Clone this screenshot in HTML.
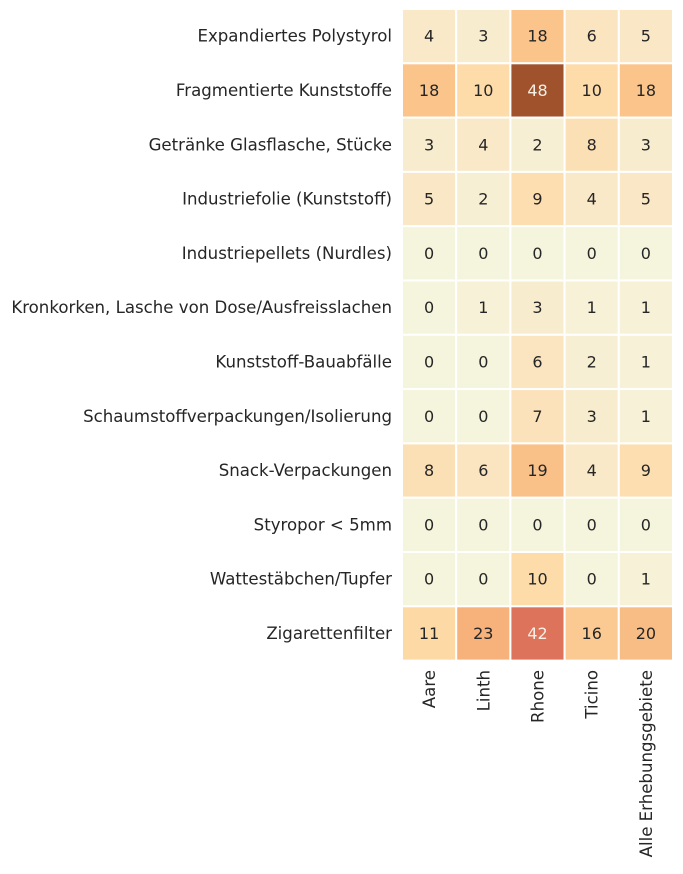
<!DOCTYPE html>
<html><head><meta charset="utf-8"><style>
body{margin:0;background:#fff;font-family:"Liberation Sans","DejaVu Sans",sans-serif;}
svg text{font-family:"DejaVu Sans","Liberation Sans",sans-serif;}
</style></head><body>
<svg id="chart" width="683" height="869" xmlns="http://www.w3.org/2000/svg"></svg>
<script>
const categories=["Expandiertes Polystyrol","Fragmentierte Kunststoffe","Getränke Glasflasche, Stücke","Industriefolie (Kunststoff)","Industriepellets (Nurdles)","Kronkorken, Lasche von Dose/Ausfreisslachen","Kunststoff-Bauabfälle","Schaumstoffverpackungen/Isolierung","Snack-Verpackungen","Styropor < 5mm","Wattestäbchen/Tupfer","Zigarettenfilter"];
const regions=["Aare","Linth","Rhone","Ticino","Alle Erhebungsgebiete"];
const aare=[4,18,3,5,0,0,0,0,8,0,0,11];
const linth=[3,10,4,2,0,1,0,0,6,0,0,23];
const rhone=[18,48,2,9,0,3,6,7,19,0,10,42];
const ticino=[6,10,8,4,0,1,2,3,4,0,0,16];
const alle=[5,18,3,5,0,1,1,1,9,0,1,20];
const series=[aare,linth,rhone,ticino,alle];
const stopV=[0,3,6,10,18,23,42,48];
const stopC=[[245,244,220],[248,236,206],[251,228,192],[253,220,170],[250,196,138],[246,178,122],[222,115,92],[160,82,45]];
function color(v){for(let i=1;i<stopV.length;i++){if(v<=stopV[i]){const t=(v-stopV[i-1])/(stopV[i]-stopV[i-1]);const c=stopC[i-1].map((a,k)=>Math.round(a+(stopC[i][k]-a)*t));return `rgb(${c})`;}}return `rgb(${stopC[stopC.length-1]})`;}
const x0=402,cw=54.2,y0=9,ch=54.3;
const xs=j=>x0+j*cw, ys=i=>y0+i*ch;
const svg=document.getElementById('chart');const NS="http://www.w3.org/2000/svg";
function mk(t,a){const e=document.createElementNS(NS,t);for(const k in a)e.setAttribute(k,a[k]);svg.appendChild(e);return e;}
series.forEach((s,j)=>s.forEach((v,i)=>{
 const r=mk('rect',{x:xs(j),y:ys(i),width:cw,height:ch,fill:color(v),stroke:'#fff','stroke-width':2});
 
 
 const t=mk('text',{x:xs(j)+cw/2,y:ys(i)+ch/2+5.5,'text-anchor':'middle','font-size':16,fill:v>=40?'#f5f0e6':'#262626'});
 t.textContent=v;
 
 
}));
categories.forEach((c,i)=>{
 const t=mk('text',{x:392,y:ys(i)+ch/2+5.5,'text-anchor':'end','font-size':16.6,fill:'#262626'});
 t.textContent=c;
 
 
});
regions.forEach((r,j)=>{
 const x=xs(j)+cw/2+6,y=670;
 const t=mk('text',{x:x,y:y,'text-anchor':'end','font-size':16.6,fill:'#262626',transform:`rotate(-90 ${x} ${y})`});
 t.textContent=r;
 
 
});
</script>
</body></html>
